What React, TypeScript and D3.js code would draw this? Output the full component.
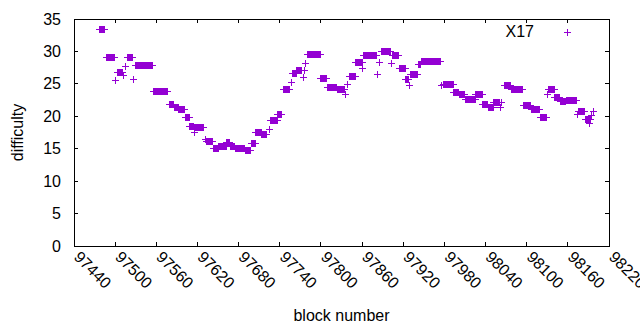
import React from 'react';
import * as d3 from 'd3';

// difficulty held constant over runs of blocks: first block, last block, value
const runFirst = [
  97477, 97487, 97501, 97503, 97512, 97515, 97518, 97527, 97529, 97556,
  97579, 97586, 97593, 97602, 97609, 97615, 97616, 97631, 97633, 97643,
  97651, 97663, 97668, 97675, 97690, 97699, 97705, 97714, 97725, 97726,
  97737, 97745, 97757, 97759, 97765, 97774, 97776, 97778, 97780, 97800,
  97809, 97824, 97836, 97839, 97842, 97851, 97861, 97862, 97882, 97886,
  97889, 97903, 97904, 97914, 97924, 97929, 97931, 97942, 97946, 97976,
  97978, 97994, 98002, 98011, 98026, 98036, 98044, 98052, 98062, 98063,
  98067, 98078, 98096, 98107, 98120, 98131, 98132, 98141, 98149, 98158,
  98174, 98176, 98186, 98192, 98195, 98197,
];
const runLast = [
  97485, 97499, 97501, 97511, 97512, 97515, 97526, 97527, 97555, 97577,
  97585, 97592, 97601, 97608, 97614, 97615, 97629, 97631, 97642, 97650,
  97662, 97667, 97674, 97688, 97698, 97704, 97713, 97721, 97725, 97736,
  97743, 97754, 97757, 97764, 97772, 97774, 97776, 97778, 97799, 97808,
  97823, 97835, 97836, 97839, 97850, 97860, 97861, 97881, 97882, 97886,
  97902, 97903, 97913, 97923, 97928, 97929, 97941, 97945, 97975, 97976,
  97993, 98001, 98009, 98025, 98035, 98043, 98051, 98061, 98062, 98063,
  98077, 98094, 98106, 98119, 98129, 98131, 98140, 98148, 98157, 98173,
  98174, 98185, 98193, 98192, 98195, 98197,
];
const runDifficulty = [
  33.4, 29.1, 25.5, 26.8, 26.3, 27.7, 29.1, 25.7, 27.9, 23.85,
  21.85, 21.4, 21.05, 19.8, 18.5, 17.5, 18.3, 16.4, 16.1, 15.05,
  15.4, 15.9, 15.4, 15.05, 14.65, 15.8, 17.5, 17.25, 18.0, 19.4,
  20.2, 24.2, 25.2, 26.6, 27.0, 26.0, 27.1, 28.2, 29.55, 25.85,
  24.4, 24.15, 23.4, 24.9, 26.1, 28.3, 27.4, 29.4, 26.5, 28.3,
  29.95, 28.15, 29.35, 27.4, 25.7, 24.7, 26.5, 28.05, 28.5, 24.7,
  24.9, 23.7, 23.4, 22.6, 23.4, 21.85, 21.4, 22.1, 21.4, 22.15,
  24.7, 24.15, 21.6, 21.07, 19.85, 23.4, 24.15, 22.9, 22.35, 22.45,
  20.25, 20.75, 19.55, 18.9, 20.05, 20.7,
];

const xTicks = [97440, 97500, 97560, 97620, 97680, 97740, 97800, 97860, 97920, 97980, 98040, 98100, 98160, 98220];
const yTicks = [0, 5, 10, 15, 20, 25, 30, 35];
const seriesName = 'X17';

const W = 640;
const H = 330;
const margin = { top: 19, right: 31, bottom: 84, left: 74 };
const color = '#9400d3';
const font = '"Liberation Sans", Arial, sans-serif';
const tick = 4;
const ps = 3.5;

const plusPath = (x: number, y: number) =>
  `M${x - ps},${y}h${ps * 2}M${x},${y - ps}v${ps * 2}`;

export default function App() {
  const x = d3.scaleLinear().domain([97440, 98220]).range([margin.left, W - margin.right]);
  const y = d3.scaleLinear().domain([0, 35]).range([H - margin.bottom, margin.top]);

  const points: { block: number; diff: number }[] = [];
  runFirst.forEach((first, i) => {
    for (let b = first; b <= runLast[i]; b++) points.push({ block: b, diff: runDifficulty[i] });
  });

  const [x0, x1] = x.range();
  const [y0, y1] = y.range();

  return (
    <svg width={W} height={H} style={{ position: 'absolute', left: 0, top: 0, background: '#fff' }}
      fontFamily={font} fontSize={16}>
      <g stroke={color} strokeWidth={1} fill="none" shapeRendering="crispEdges">
        {points.map((p, i) => (
          <path key={i} d={plusPath(x(p.block), y(p.diff))} />
        ))}
      </g>

      <g stroke="#000" strokeWidth={1} shapeRendering="crispEdges">
        <rect x={x0} y={y1} width={x1 - x0} height={y0 - y1} fill="none" />
        {xTicks.map(t => (
          <g key={t}>
            <line x1={x(t)} x2={x(t)} y1={y0} y2={y0 - tick} />
            <line x1={x(t)} x2={x(t)} y1={y1} y2={y1 + tick} />
          </g>
        ))}
        {yTicks.map(t => (
          <g key={t}>
            <line x1={x0} x2={x0 + tick} y1={y(t)} y2={y(t)} />
            <line x1={x1} x2={x1 - tick} y1={y(t)} y2={y(t)} />
          </g>
        ))}
      </g>

      {yTicks.map(t => (
        <text key={t} x={x0 - 13} y={y(t)} dy="0.35em" textAnchor="end" fill="#000">{t}</text>
      ))}
      {xTicks.map(t => (
        <text key={t} transform={`translate(${x(t) - 1},${y0 + 12}) rotate(45)`} textAnchor="start" fill="#000">{t}</text>
      ))}

      <text transform={`translate(23,${(y0 + y1) / 2}) rotate(-90)`} textAnchor="middle" fill="#000">difficulty</text>
      <text x={(x0 + x1) / 2} y={321} textAnchor="middle" fill="#000">block number</text>

      <text x={534} y={31} dy="0.35em" textAnchor="end" fill="#000">{seriesName}</text>
      <path d={plusPath(567, 32)} stroke={color} strokeWidth={1} shapeRendering="crispEdges" />
    </svg>
  );
}
